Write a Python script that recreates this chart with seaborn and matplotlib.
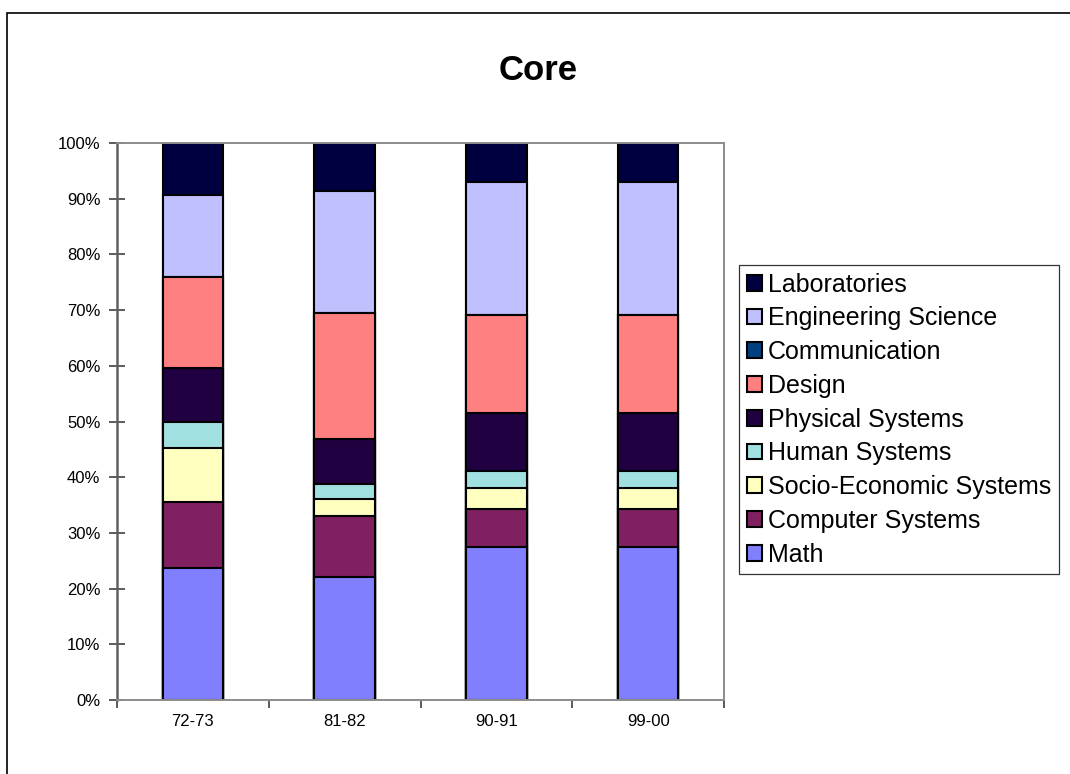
import matplotlib
matplotlib.use("Agg")
import matplotlib.pyplot as plt
from matplotlib.patches import Patch, Rectangle
from matplotlib.ticker import FixedLocator, PercentFormatter
import numpy as np
import pandas as pd
import seaborn as sns

# Share of the core curriculum (percent) by subject area and academic year
years = ["72-73", "81-82", "90-91", "99-00"]
math_pct = [23.7, 22.1, 27.4, 27.4]
computer_pct = [11.9, 11.0, 6.9, 6.9]
socio_pct = [9.7, 2.9, 3.8, 3.8]
human_pct = [4.6, 2.8, 3.1, 3.1]
physical_pct = [9.7, 8.1, 10.4, 10.4]
design_pct = [16.4, 22.6, 17.5, 17.5]
communication_pct = [0.0, 0.0, 0.0, 0.0]
engsci_pct = [14.6, 21.9, 23.9, 23.9]
labs_pct = [9.4, 8.6, 7.0, 7.0]

# stacking order, bottom to top
series = [
    ("Math", math_pct, "#8080FF"),
    ("Computer Systems", computer_pct, "#802060"),
    ("Socio-Economic Systems", socio_pct, "#FFFFC0"),
    ("Human Systems", human_pct, "#A0E0E0"),
    ("Physical Systems", physical_pct, "#200040"),
    ("Design", design_pct, "#FF8080"),
    ("Communication", communication_pct, "#003F80"),
    ("Engineering Science", engsci_pct, "#C0C0FF"),
    ("Laboratories", labs_pct, "#000040"),
]

sns.set_theme(style="white")
plt.rcParams["font.family"] = ["Liberation Sans", "DejaVu Sans"]
plt.rcParams["text.color"] = "black"
plt.rcParams["xtick.labelcolor"] = "black"
plt.rcParams["ytick.labelcolor"] = "black"

fig = plt.figure(figsize=(10.70, 7.74), dpi=100)
ax = fig.add_axes([117 / 1070, 1 - 700 / 774, 607 / 1070, 557 / 774])

# cumulative tops, drawn from the highest layer down so each band shows
rows = []
cum = np.zeros(len(years))
for name, vals, color in series:
    cum = cum + np.array(vals, dtype=float)
    for y, top in zip(years, cum):
        rows.append({"year": y, "series": name, "top": top})
df = pd.DataFrame(rows)

for name, vals, color in reversed(series):
    sub = df[df["series"] == name]
    sns.barplot(data=sub, x="year", y="top", order=years, color=color,
                width=0.40, edgecolor="black", linewidth=1.5,
                saturation=1, ax=ax, errorbar=None)

ax.set_xlim(-0.5, len(years) - 0.5)
ax.set_ylim(0, 100)
ax.set_xlabel("")
ax.set_ylabel("")

ax.yaxis.set_major_locator(FixedLocator(np.arange(0, 101, 10)))
ax.yaxis.set_major_formatter(PercentFormatter(decimals=0))
ax.tick_params(axis="y", which="major", direction="inout", length=12,
               width=1.2, color="#404040", labelsize=12, pad=6, left=True,
               labelcolor="black")
ax.tick_params(axis="x", which="major", length=0, labelsize=12, pad=10,
               labelcolor="black")
ax.xaxis.set_minor_locator(FixedLocator(np.arange(-0.5, len(years), 1.0)))
ax.tick_params(axis="x", which="minor", direction="out", length=6,
               width=1.2, color="#404040", bottom=True)

for side in ["top", "right", "bottom", "left"]:
    ax.spines[side].set_visible(True)
    ax.spines[side].set_color("#8C8C8C")
    ax.spines[side].set_linewidth(1.4)
ax.spines["left"].set_color("#606060")
ax.spines["left"].set_linewidth(1.8)
ax.grid(False)

fig.text(538 / 1070, 1 - 70 / 774, "Core", ha="center", va="center",
         fontsize=25, fontweight="bold", color="black")

handles = [Patch(facecolor=c, edgecolor="black", linewidth=1.5, label=n)
           for n, v, c in reversed(series)]
leg = fig.legend(handles=handles, loc="upper left",
                 bbox_to_anchor=(739 / 1070, 1 - 265 / 774),
                 bbox_transform=fig.transFigure, fontsize=18,
                 frameon=True, fancybox=False, shadow=False,
                 handlelength=0.6, handleheight=0.6, handletextpad=0.25,
                 labelspacing=0.39, borderpad=0.3, borderaxespad=0)
leg.get_frame().set_edgecolor("black")
leg.get_frame().set_linewidth(0.9)
for t in leg.get_texts():
    t.set_color("black")

# outer chart frame (top and left edges visible)
fig.patches.append(Rectangle((7 / 1070, -0.1), 1.2, 1.1 - 13 / 774,
                             transform=fig.transFigure, fill=False,
                             edgecolor="black", linewidth=1.2))

fig.savefig("out.png", dpi=100)
